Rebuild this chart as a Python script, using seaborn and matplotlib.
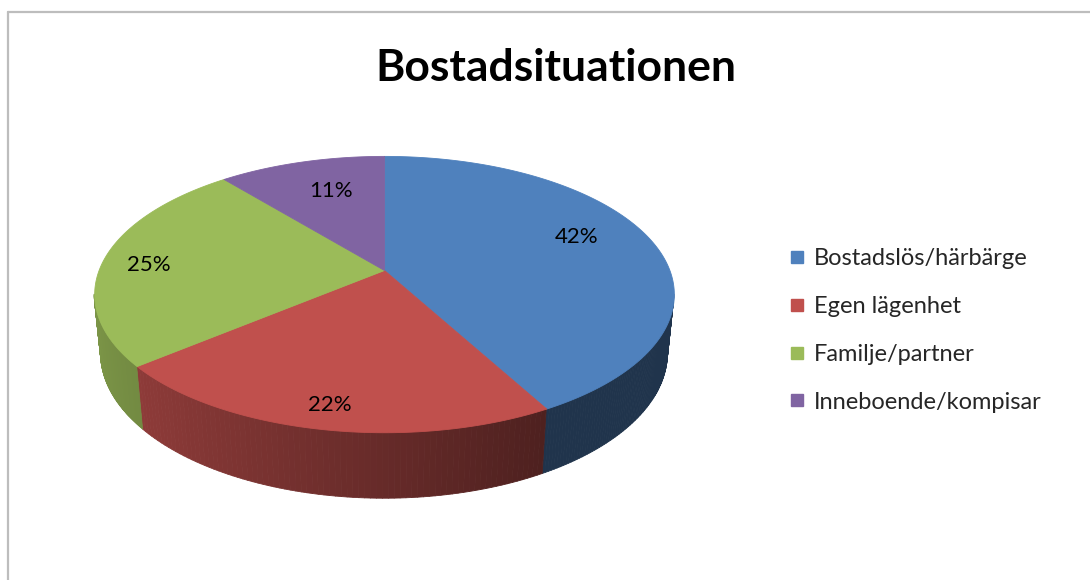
import numpy as np
import matplotlib
matplotlib.use("Agg")
import matplotlib.pyplot as plt
import seaborn as sns
from matplotlib.collections import PolyCollection
from matplotlib.lines import Line2D

# ---------------- data ----------------
title = "Bostadsituationen"
categories = ["Bostadslös/härbärge", "Egen lägenhet", "Familje/partner", "Inneboende/kompisar"]
shares = [42, 22, 25, 11]
pct_labels = ["42%", "22%", "25%", "11%"]
colors = ["#4F81BD", "#C0504D", "#9BBB59", "#8064A2"]

# ---------------- style ----------------
sns.set_theme(style="white")
plt.rcParams['font.family'] = ['Lato', 'DejaVu Sans']
palette = sns.color_palette(colors)

# ---------------- layout / 3-D projection ----------------
W, H = 1090, 580
CX, CY = 384, 270          # projected pie centre (pixels)
FOCAL = 1447.0
DIST = 5.07
ALPHA = np.radians(28)
THICK = 0.236
label_r = [0.72, 0.86, 0.84, 0.60]
label_dy = [-10, 2, 5, -10]

ca, sa = np.cos(ALPHA), np.sin(ALPHA)


def project(X, Y, Z):
    yc = Y * ca - Z * sa
    zc = DIST - Y * sa - Z * ca
    return CX + FOCAL * X / zc, CY - FOCAL * yc / zc


def disk(phi, r=1.0, Y=0.0):
    return project(r * np.sin(phi), Y, -r * np.cos(phi))


fig = plt.figure(figsize=(W / 100, H / 100), dpi=100)
ax = fig.add_axes([0, 0, 1, 1])
ax.set_xlim(0, W)
ax.set_ylim(H, 0)
ax.axis("off")

# frame lines of the chart area
ax.add_line(Line2D([8, 8], [H, 12], color="#BDBDBD", lw=1.6))
ax.add_line(Line2D([8, W], [12, 12], color="#BDBDBD", lw=1.6))

total = float(sum(shares))
bounds = np.concatenate([[0], np.cumsum(shares)]) / total * 2 * np.pi

# silhouette angles
ph = np.linspace(0, 2 * np.pi, 7201)
xs, _ = disk(ph)
phi_right = ph[np.argmax(xs)]
phi_left = ph[np.argmin(xs)]

# side walls with shading
polys, fcols = [], []
for i in range(len(shares)):
    a, b = bounds[i], bounds[i + 1]
    lo, hi = max(a, phi_right), min(b, phi_left)
    if lo >= hi:
        continue
    steps = np.linspace(lo, hi, 80)
    base = np.array(palette[i])
    for p0, p1 in zip(steps[:-1], steps[1:]):
        t0 = disk(p0); t1 = disk(p1)
        b0 = disk(p0, Y=-THICK); b1 = disk(p1, Y=-THICK)
        polys.append([t0, t1, b1, b0])
        X = np.sin((p0 + p1) / 2)
        fac = 0.40 + 0.40 * np.clip((0.5 - X) / 1.5, 0, 1)
        fcols.append(tuple(base * fac))
ax.add_collection(PolyCollection(polys, facecolors=fcols, edgecolors=fcols, linewidths=0.6))

# top faces
for i in range(len(shares)):
    a, b = bounds[i], bounds[i + 1]
    arc = np.linspace(a, b, 200)
    px, py = disk(arc)
    verts = [(CX, CY)] + list(zip(px, py))
    ax.add_collection(PolyCollection([verts], facecolors=[palette[i]],
                                     edgecolors=[palette[i]], linewidths=0.6))

# percentage labels
for i in range(len(shares)):
    mid = (bounds[i] + bounds[i + 1]) / 2
    lx, ly = disk(mid, r=label_r[i])
    ax.text(lx, ly + label_dy[i], pct_labels[i], ha="center", va="center",
            fontsize=16, color="black")

# title
ax.text(556, 68, title, ha="center", va="center", fontsize=32, fontweight="bold", color="black")

# legend
handles = [Line2D([], [], marker="s", linestyle="none", markersize=8,
                  markerfacecolor=palette[i], markeredgecolor=palette[i]) for i in range(len(shares))]
ax.legend(handles, categories, loc="upper left", bbox_to_anchor=(790 / W, 1 - 248 / H),
          frameon=False, fontsize=17, labelspacing=1.14, handlelength=0.6,
          handletextpad=0.4, borderaxespad=0, borderpad=0)

fig.savefig("out.png", dpi=100, facecolor="white")
